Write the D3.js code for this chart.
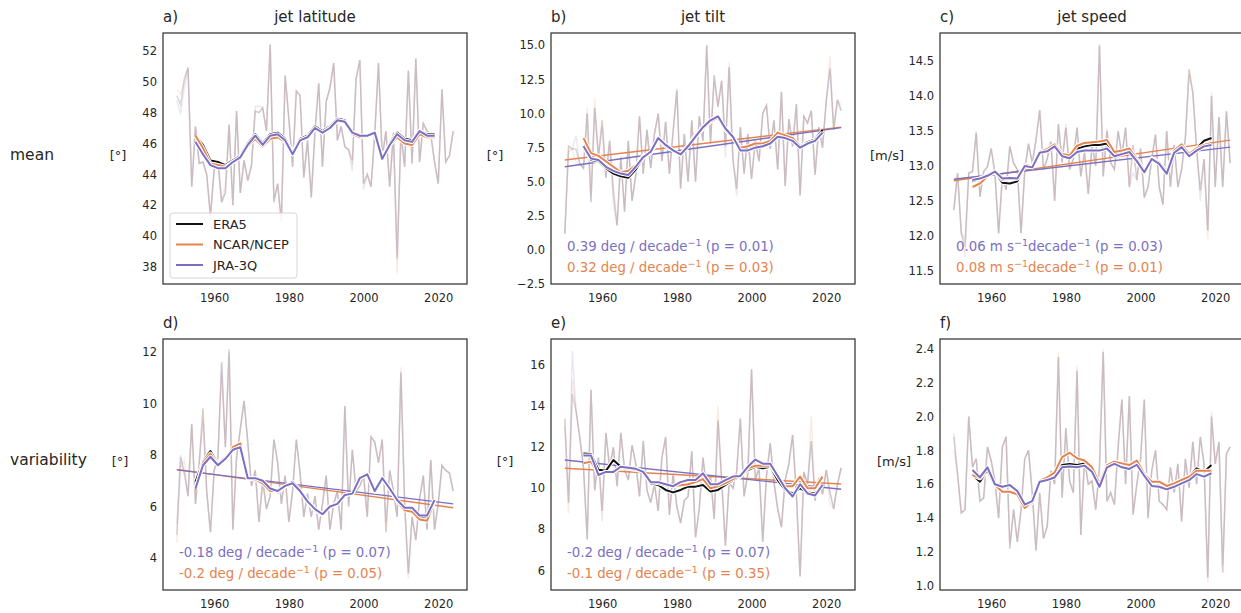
<!DOCTYPE html>
<html>
<head>
<meta charset="utf-8">
<script src="https://cdn.jsdelivr.net/npm/d3@7"></script>
<style>
  body { margin: 0; background: #fff; }
  svg text { font-family: "DejaVu Sans", sans-serif; fill: #262626; }
</style>
</head>
<body>
<div id="chart"></div>
<script>
// ---- data --------------------------------------------------------------
const years = d3.range(1950, 2025)          // annual values
const smoothYears = d3.range(1955, 2020, 2) // 11-yr running mean, read every 2nd year
const datasetNames = ['ERA5', 'NCAR/NCEP', 'JRA-3Q']
const xTicks = [1960, 1980, 2000, 2020]

// a) jet latitude mean
const latEra5 = [49.1,48.5,50.2,50.9,43.2,47.1,44.7,44.8,44.0,41.3, 44.3,44.9,42.2,42.8,47.2,42.0,48.1,42.8,44.9,43.6, 44.6,48.1,48.0,48.3,46.8,52.4,42.2,43.4,40.9,50.4, 47.6,44.5,49.4,49.1,43.8,46.2,42.5,46.8,49.9,44.5, 48.7,49.6,51.2,46.2,47.1,45.8,45.6,44.9,50.2,51.4, 43.4,44.0,43.2,46.6,51.2,45.1,46.8,43.2,46.7,38.5, 46.6,44.5,50.7,44.7,51.5,44.8,47.3,46.8,46.6,44.8, 43.4,49.5,44.8,45.2,46.8]
const latNcar = [49.5,49.2,50.0,50.9,43.2,47.1,44.7,44.8,44.0,41.3, 44.3,44.9,42.2,43.3,47.2,42.0,48.1,42.8,44.9,43.6, 44.6,48.1,48.0,48.3,46.8,52.4,42.4,43.4,40.9,50.4, 47.6,44.5,49.4,49.1,43.8,46.2,42.5,46.8,49.9,44.5, 48.7,49.6,51.2,46.2,47.1,45.8,45.6,44.6,50.2,51.4, 43.4,44.0,43.2,46.6,51.2,45.1,46.8,43.2,46.7,37.6, 46.9,44.5,50.7,44.7,51.5,44.8,47.3,46.8,46.6,44.8, 43.4,49.5,44.8,45.2,46.8]
const latJra = [48.8,47.9,49.6,50.9,43.2,47.1,44.7,44.8,44.0,41.3, 44.3,44.9,42.2,42.8,47.2,42.0,48.1,42.8,44.9,43.6, 44.6,48.4,48.4,48.3,46.8,52.4,42.2,43.4,40.9,50.4, 47.6,44.5,49.4,49.1,43.8,46.2,42.5,46.8,49.9,44.5, 48.7,49.6,51.2,46.2,47.1,45.8,45.6,44.2,50.2,51.4, 43.0,44.0,43.2,46.6,51.2,45.1,46.8,43.2,46.7,38.7, 46.6,44.5,50.7,44.7,51.5,44.8,47.3,46.8,46.6,44.8, 43.4,49.5,44.8,45.2,46.8]
const latSmEra5 = [46.5,45.9,44.9,44.8,44.6,44.9,45.2,46.0,46.6,46.0,46.6,46.7,46.3,45.4,46.3,46.5,47.1,46.8,47.1,47.6,47.5,46.7,46.4,46.5,46.7,45.1,46.0,46.7,46.3,46.2,46.8,46.6,46.6]
const latSmNcar = [46.5,45.7,44.7,44.6,44.5,44.8,45.1,45.8,46.3,45.8,46.3,46.4,46.1,45.3,46.2,46.4,46.9,46.7,47.0,47.5,47.4,46.6,46.4,46.5,46.7,45.1,45.9,46.4,46.0,45.9,46.6,46.4,46.4]
const latSmJra = [46.1,45.3,44.6,44.4,44.4,44.8,45.1,45.9,46.5,45.9,46.5,46.6,46.2,45.3,46.2,46.4,47.0,46.7,47.0,47.5,47.4,46.7,46.5,46.5,46.7,45.0,45.9,46.6,46.2,46.1,46.8,46.5,46.5]

// b) jet tilt mean
const tiltEra5 = [1.2,7.6,7.4,7.4,6.3,6.0,10.0,3.5,10.4,6.8, 9.5,5.3,8.0,4.2,1.8,6.8,2.8,8.0,3.6,5.5, 9.8,5.6,8.8,6.0,8.5,10.0,6.5,9.4,5.6,8.7, 11.7,4.5,8.5,5.0,9.5,5.0,9.8,8.0,15.0,7.8, 12.8,10.5,12.4,7.6,13.4,6.7,4.5,9.0,5.6,8.5, 5.2,8.0,6.5,10.0,10.6,7.4,9.5,5.9,11.6,4.7, 9.6,7.6,10.7,4.0,9.8,9.3,10.2,5.5,9.0,7.5, 10.9,13.3,8.8,11.0,10.2]
const tiltNcar = [1.2,7.6,7.4,6.4,6.3,6.0,10.4,4.0,11.1,6.8, 9.5,5.3,8.0,4.8,1.8,6.8,2.8,8.0,3.6,5.5, 9.8,5.6,8.8,6.0,8.5,10.0,6.5,9.4,5.6,8.7, 11.9,4.5,8.5,5.0,9.5,5.0,9.8,8.0,15.0,7.8, 12.4,10.5,12.4,7.6,13.8,6.7,4.5,9.0,5.6,8.5, 5.2,8.0,6.5,10.0,10.6,7.4,9.5,5.9,11.6,4.7, 9.6,7.6,10.7,4.0,9.8,9.3,10.2,5.5,9.0,7.5, 10.9,14.2,8.8,11.0,10.6]
const tiltJra = [1.2,7.2,7.4,8.4,6.3,6.0,10.0,3.5,10.4,6.8, 9.0,5.3,8.0,3.4,1.8,6.8,2.8,8.0,3.6,5.5, 9.8,5.6,8.8,6.0,8.5,10.0,6.5,9.4,5.6,8.7, 11.7,4.5,8.5,5.0,9.5,5.0,9.8,8.0,15.0,7.8, 12.8,10.5,12.4,6.8,13.4,6.7,4.0,9.0,5.6,8.5, 5.2,8.0,6.5,10.0,10.6,7.4,9.5,5.9,11.6,4.7, 9.6,7.6,10.7,4.0,9.8,9.3,10.2,5.5,9.0,7.5, 10.9,13.3,8.8,11.0,10.2]
const tiltSmEra5 = [7.6,6.6,6.5,6.0,5.6,5.4,5.3,5.9,6.8,7.1,8.1,7.6,7.3,7.0,7.7,8.4,9.0,9.4,9.7,8.8,8.3,7.4,7.4,7.6,7.7,7.9,8.4,8.3,8.1,7.6,7.9,8.1,8.8]
const tiltSmNcar = [8.2,7.1,6.9,6.5,6.1,5.7,5.8,6.2,6.9,7.1,8.2,7.7,7.3,7.0,7.7,8.3,8.9,9.4,9.7,8.8,8.3,7.5,7.6,7.8,7.8,8.0,8.6,8.4,8.2,7.6,7.8,8.0,8.6]
const tiltSmJra = [7.6,6.7,6.6,6.1,5.8,5.6,5.5,6.1,6.8,7.2,8.2,7.7,7.3,7.0,7.6,8.3,9.0,9.5,9.8,8.9,8.3,7.3,7.3,7.5,7.6,7.8,8.3,8.2,8.0,7.5,7.8,8.0,8.6]

// c) jet speed mean
const speedEra5 = [12.37,12.90,12.04,11.85,12.90,12.92,13.47,12.56,12.92,12.99, 13.25,12.90,12.04,12.85,12.66,13.28,13.04,12.95,12.04,12.94, 13.32,13.04,13.37,13.80,12.95,13.10,13.35,12.50,13.60,13.05, 13.55,12.95,13.10,13.55,12.85,13.20,12.60,13.30,13.00,14.72, 12.85,13.50,13.05,12.95,13.50,13.15,13.55,12.70,13.30,12.80, 13.25,12.55,12.70,13.10,13.45,12.70,12.45,13.50,12.70,13.30, 12.70,12.95,13.40,14.38,14.05,13.25,12.65,13.10,12.08,14.00, 12.70,13.70,12.70,13.78,13.04]
const speedNcar = [12.37,12.90,12.04,11.70,12.90,12.92,13.47,12.56,12.92,12.99, 13.25,12.90,12.04,12.85,12.66,13.28,13.04,12.95,12.04,12.94, 13.32,13.04,13.37,13.80,12.95,13.10,13.35,12.50,13.60,13.05, 13.60,12.95,13.10,13.55,12.85,13.20,12.60,13.30,13.00,14.75, 12.85,13.55,13.05,12.95,13.50,13.15,13.55,12.70,13.30,12.80, 13.25,12.55,12.70,13.10,13.45,12.70,12.45,13.50,12.70,13.30, 12.70,12.95,13.40,14.38,14.05,13.25,12.65,13.10,11.95,14.05, 12.70,13.70,12.70,13.78,13.04]
const speedJra = [12.37,12.90,12.04,11.95,12.90,12.92,13.50,12.56,12.92,12.99, 13.25,12.90,12.04,12.85,12.66,13.28,13.04,12.95,12.04,12.94, 13.32,13.04,13.37,13.80,12.95,13.10,13.35,12.50,13.60,13.05, 13.55,12.95,13.10,13.55,12.85,13.20,12.60,13.30,13.00,14.72, 12.85,13.50,13.05,12.95,13.50,13.15,13.55,12.70,12.90,12.80, 13.25,12.55,12.70,13.10,13.45,12.70,12.45,13.50,12.70,13.30, 12.70,12.95,13.40,14.30,14.05,13.25,12.50,13.10,12.08,14.00, 12.70,13.70,12.70,13.78,13.04]
const speedSmEra5 = [12.78,12.82,12.87,12.92,12.76,12.75,12.78,13.01,12.99,13.20,13.23,13.30,13.16,13.13,13.25,13.28,13.30,13.30,13.32,13.18,13.20,13.23,13.09,12.92,13.11,13.04,12.91,13.21,13.30,13.16,13.25,13.36,13.40]
const speedSmNcar = [12.70,12.75,12.85,12.92,12.80,12.83,12.82,13.02,12.99,13.20,13.24,13.31,13.17,13.15,13.29,13.33,13.34,13.35,13.37,13.20,13.22,13.25,13.10,12.93,13.11,13.05,12.92,13.22,13.31,13.17,13.25,13.30,13.33]
const speedSmJra = [12.80,12.82,12.86,12.92,12.82,12.83,12.82,13.00,12.98,13.19,13.21,13.28,13.14,13.11,13.20,13.22,13.22,13.22,13.25,13.14,13.17,13.20,13.07,12.91,13.10,13.03,12.89,13.19,13.27,13.14,13.22,13.28,13.30]

// d) jet latitude variability
const latVarEra5 = [4.9,7.9,7.3,6.4,9.2,6.1,7.7,9.8,6.6,5.0, 7.4,7.9,11.6,8.3,12.1,5.1,7.9,9.0,10.1,8.5, 6.8,7.4,5.4,7.0,5.9,6.4,8.6,7.7,6.1,7.2, 5.4,6.6,8.6,7.3,5.6,6.5,5.6,6.4,5.1,6.1, 7.2,5.1,6.1,6.6,5.1,9.9,6.0,8.2,6.6,6.8, 7.2,5.6,8.7,8.5,7.7,8.6,5.0,7.4,6.6,5.6, 11.2,6.1,3.4,5.6,4.7,6.3,7.2,5.1,7.8,5.1, 6.1,7.6,7.4,7.3,6.6]
const latVarNcar = [4.6,7.5,7.8,6.4,9.2,6.1,7.7,9.8,6.6,5.0, 7.4,7.9,11.2,8.3,11.9,5.1,7.9,9.0,10.1,8.5, 6.8,7.4,5.4,7.0,5.9,6.4,8.6,7.7,6.1,7.2, 5.4,6.6,8.6,7.3,5.6,6.5,5.6,6.4,5.1,6.1, 7.2,5.1,6.1,6.6,5.1,9.9,6.0,8.2,6.6,6.8, 7.2,5.6,8.7,8.5,7.7,8.6,5.0,7.4,6.6,5.6, 11.4,6.1,3.2,5.6,4.7,6.3,7.2,5.1,7.8,5.1, 6.1,7.6,7.4,7.3,6.6]
const latVarJra = [5.3,8.0,7.3,6.4,9.2,6.1,7.7,9.3,6.6,5.0, 7.4,7.9,11.6,8.3,12.0,5.1,7.9,9.0,10.1,8.5, 6.8,7.4,5.4,7.0,5.9,6.4,8.6,7.7,6.1,7.2, 5.4,6.6,8.6,7.3,5.6,6.5,5.6,6.4,5.1,6.1, 7.2,5.1,6.1,6.6,5.1,9.9,6.0,8.2,6.6,6.8, 7.2,5.6,8.7,8.5,7.7,8.6,5.4,7.4,6.6,5.6, 11.2,6.1,3.4,5.6,4.7,6.3,7.2,5.1,7.8,5.1, 6.1,7.6,7.4,7.3,6.6]
const latVarSmEra5 = [6.96,7.74,8.15,7.65,7.9,8.25,8.35,7.09,7.09,6.96,6.64,6.55,6.77,6.96,6.64,6.19,5.86,5.67,5.99,6.12,6.45,6.51,7.1,7.25,6.58,7.1,6.7,6.25,5.93,5.88,5.6,5.6,6.25]
const latVarSmNcar = [6.64,7.7,8.05,7.6,7.85,8.3,8.45,7.1,7.05,6.9,6.6,6.6,6.8,6.9,6.6,6.2,5.9,5.7,6.0,6.1,6.45,6.5,7.1,7.25,6.6,7.1,6.7,6.2,5.85,5.8,5.5,5.45,6.2]
const latVarSmJra = [6.7,7.6,7.93,7.6,7.85,8.2,8.3,7.1,7.1,7.0,6.7,6.6,6.8,6.9,6.6,6.2,5.9,5.7,6.0,6.1,6.45,6.5,7.1,7.25,6.6,7.1,6.7,6.25,5.95,5.95,5.65,5.65,6.25]

// e) jet tilt variability
const tiltVarEra5 = [13.4,9.3,14.6,13.8,12.5,11.0,7.5,14.8,9.9,11.5, 8.9,12.7,11.0,12.0,10.1,12.7,10.9,10.4,12.1,11.2, 9.6,12.3,9.9,9.3,10.2,8.9,11.5,12.5,8.7,10.7, 9.1,8.3,9.4,9.6,11.8,7.6,9.0,11.5,9.9,10.6, 8.5,13.3,10.4,7.2,10.3,10.0,10.8,13.4,9.6,10.7, 15.8,10.4,11.0,7.4,10.6,12.2,10.3,9.0,8.1,10.4, 11.2,12.6,9.7,5.7,10.8,10.2,12.3,9.4,10.5,9.7, 10.9,9.8,9.0,10.2,11.0]
const tiltVarNcar = [13.4,8.8,15.3,13.8,12.5,11.0,7.5,14.8,9.9,11.5, 8.9,12.7,11.0,12.0,10.1,12.7,10.9,10.4,12.1,11.2, 9.6,12.3,9.9,9.3,10.2,8.9,11.5,12.5,8.7,10.7, 9.1,8.3,9.4,9.6,11.8,7.6,9.0,11.5,9.9,10.6, 8.5,14.0,10.4,7.2,10.3,10.0,10.8,13.4,9.6,10.7, 15.8,10.4,11.0,7.4,10.6,12.2,10.3,9.0,8.1,10.4, 11.2,12.6,9.7,5.7,10.8,10.2,13.5,9.4,10.5,9.7, 10.9,9.2,9.0,10.2,11.0]
const tiltVarJra = [13.0,9.3,16.7,13.8,12.5,11.0,7.5,14.8,9.9,11.5, 8.4,12.7,11.0,12.0,10.1,12.7,10.9,10.4,12.1,11.2, 9.6,12.3,9.9,9.3,10.2,8.9,11.5,12.5,8.7,10.7, 9.1,8.3,9.4,9.6,11.8,7.6,9.0,11.5,9.9,10.6, 8.5,13.3,10.4,7.2,10.3,10.0,10.8,13.4,9.6,10.7, 15.8,10.4,11.0,7.4,10.6,12.2,10.3,9.0,8.1,10.4, 11.2,12.6,9.7,5.7,10.8,10.2,12.3,9.4,10.5,9.7, 10.9,9.8,9.0,10.2,11.0]
const tiltVarSmEra5 = [11.7,11.67,10.9,10.85,11.38,11.05,11.0,10.97,10.81,10.24,10.16,9.92,9.8,9.92,10.08,10.08,10.16,9.84,9.92,10.16,10.4,10.57,10.89,11.05,10.97,11.05,10.4,9.92,9.75,10.0,9.8,9.75,10.16]
const tiltVarSmNcar = [11.22,11.3,10.7,10.8,10.8,11.0,10.95,10.9,10.8,10.3,10.25,10.15,10.1,10.15,10.2,10.3,10.45,10.0,10.1,10.25,10.45,10.6,10.97,11.1,11.1,11.1,10.6,10.1,10.1,10.57,10.0,10.0,10.57]
const tiltVarSmJra = [11.6,11.6,10.65,10.8,10.8,11.05,11.0,10.95,10.8,10.3,10.3,10.2,10.1,10.3,10.4,10.4,10.73,10.2,10.2,10.4,10.57,10.6,11.05,11.4,11.2,11.2,10.6,10.0,9.6,10.2,9.75,9.65,10.16]

// f) jet speed variability
const speedVarEra5 = [1.88,1.66,1.43,1.45,2.00,1.70,1.75,1.50,1.52,1.82, 1.74,1.62,1.40,1.82,1.88,1.22,1.45,1.26,1.45,1.75, 1.80,1.55,1.21,1.55,1.28,1.35,1.68,1.60,2.35,1.52, 1.93,1.62,1.55,2.27,1.30,1.75,1.60,1.62,1.45,1.70, 2.38,1.50,1.55,1.48,1.82,2.10,1.60,2.12,1.42,1.60, 1.75,2.10,1.40,1.68,1.80,1.50,1.48,1.45,1.70,1.55, 1.72,1.38,1.75,1.58,1.85,1.60,1.88,1.72,1.05,2.00, 1.72,1.85,1.08,1.78,1.82]
const speedVarNcar = [1.80,1.66,1.43,1.45,2.00,1.70,1.75,1.50,1.52,1.82, 1.74,1.62,1.40,1.82,1.88,1.22,1.45,1.26,1.45,1.75, 1.80,1.55,1.21,1.55,1.28,1.35,1.68,1.60,2.38,1.52, 1.93,1.62,1.55,2.30,1.30,1.75,1.60,1.62,1.45,1.70, 2.40,1.50,1.55,1.48,1.82,2.10,1.60,2.12,1.42,1.60, 1.75,2.10,1.40,1.68,1.80,1.50,1.48,1.45,1.70,1.55, 1.72,1.38,1.75,1.58,1.85,1.60,1.88,1.72,1.02,2.03, 1.72,1.85,1.08,1.78,1.82]
const speedVarJra = [1.90,1.66,1.43,1.45,2.00,1.70,1.75,1.50,1.52,1.82, 1.74,1.62,1.40,1.82,1.88,1.25,1.45,1.26,1.45,1.75, 1.80,1.55,1.21,1.55,1.28,1.35,1.68,1.60,2.35,1.52, 1.93,1.62,1.55,2.27,1.30,1.75,1.60,1.62,1.45,1.70, 2.38,1.50,1.55,1.48,1.82,2.10,1.60,2.12,1.42,1.60, 1.75,2.10,1.40,1.68,1.80,1.50,1.48,1.45,1.70,1.55, 1.72,1.38,1.75,1.58,1.85,1.60,1.88,1.72,1.05,2.00, 1.72,1.85,1.12,1.78,1.82]
const speedVarSmEra5 = [1.654,1.615,1.684,1.595,1.556,1.556,1.55,1.47,1.49,1.615,1.625,1.644,1.713,1.72,1.713,1.723,1.684,1.595,1.713,1.733,1.723,1.713,1.743,1.664,1.615,1.615,1.59,1.605,1.625,1.644,1.694,1.674,1.713]
const speedVarSmNcar = [1.654,1.635,1.68,1.595,1.556,1.556,1.54,1.46,1.50,1.62,1.64,1.67,1.76,1.786,1.753,1.74,1.70,1.605,1.713,1.733,1.723,1.713,1.74,1.66,1.615,1.615,1.59,1.605,1.625,1.644,1.68,1.68,1.68]
const speedVarSmJra = [1.684,1.64,1.70,1.60,1.585,1.595,1.56,1.48,1.50,1.615,1.625,1.64,1.70,1.705,1.70,1.71,1.674,1.585,1.70,1.72,1.70,1.69,1.715,1.65,1.59,1.585,1.57,1.585,1.605,1.624,1.66,1.645,1.665]

// linear trends, value at 1950 and at 2024 (null = no trend drawn)
const trendYears = [1950, 2024]
const trendJra  = [null, [6.10, 8.97], [12.81, 13.27], [7.42, 6.10], [11.38, 9.95], null]
const trendNcar = [null, [6.60, 9.00], [12.79, 13.37], [7.44, 5.95], [10.98, 10.21], null]
const trendTextJra  = [null, '0.39 deg / decade{−1} (p = 0.01)', '0.06 m s{−1}decade{−1} (p = 0.03)', '-0.18 deg / decade{−1} (p = 0.07)', '-0.2 deg / decade{−1} (p = 0.07)', null]
const trendTextNcar = [null, '0.32 deg / decade{−1} (p = 0.03)', '0.08 m s{−1}decade{−1} (p = 0.01)', '-0.2 deg / decade{−1} (p = 0.05)', '-0.1 deg / decade{−1} (p = 0.35)', null]

// ---- layout ------------------------------------------------------------
const W = 1241, H = 613
const colLeft = [163, 551, 940], rowTop = [33, 339], pw = 304, ph = 251
const xDomain = [1946.3, 2027.7]
const colors = ['#111111', '#e5834f', '#7a6fc1']
const fmt1 = d => d.toFixed(1).replace('-', '\u2212')

const panels = [
  {letter: 'a)', title: 'jet latitude', unit: '[°]', labelDx: -45, ydom: [36.9, 53.15], yticks: [38,40,42,44,46,48,50,52], fmt: d3.format('d'),
   annual: [latEra5, latNcar, latJra], smooth: [latSmEra5, latSmNcar, latSmJra]},
  {letter: 'b)', title: 'jet tilt', unit: '[°]', labelDx: -56, ydom: [-2.49, 15.9], yticks: [-2.5,0,2.5,5,7.5,10,12.5,15], fmt: fmt1,
   annual: [tiltEra5, tiltNcar, tiltJra], smooth: [tiltSmEra5, tiltSmNcar, tiltSmJra]},
  {letter: 'c)', title: 'jet speed', unit: '[m/s]', labelDx: -53, ydom: [11.314, 14.9], yticks: [11.5,12,12.5,13,13.5,14,14.5], fmt: fmt1,
   annual: [speedEra5, speedNcar, speedJra], smooth: [speedSmEra5, speedSmNcar, speedSmJra]},
  {letter: 'd)', title: '', unit: '[°]', labelDx: -43, ydom: [2.76, 12.5], yticks: [4,6,8,10,12], fmt: d3.format('d'),
   annual: [latVarEra5, latVarNcar, latVarJra], smooth: [latVarSmEra5, latVarSmNcar, latVarSmJra]},
  {letter: 'e)', title: '', unit: '[°]', labelDx: -46, ydom: [5.04, 17.28], yticks: [6,8,10,12,14,16], fmt: d3.format('d'),
   annual: [tiltVarEra5, tiltVarNcar, tiltVarJra], smooth: [tiltVarSmEra5, tiltVarSmNcar, tiltVarSmJra]},
  {letter: 'f)', title: '', unit: '[m/s]', labelDx: -46, ydom: [0.976, 2.457], yticks: [1,1.2,1.4,1.6,1.8,2,2.2,2.4], fmt: fmt1,
   annual: [speedVarEra5, speedVarNcar, speedVarJra], smooth: [speedVarSmEra5, speedVarSmNcar, speedVarSmJra]}
]

const svg = d3.select('#chart').append('svg').attr('width', W).attr('height', H)

// row labels
svg.append('text').attr('x', 10).attr('y', 160).attr('font-size', 15.5).text('mean')
svg.append('text').attr('x', 10).attr('y', 465).attr('font-size', 15.5).text('variability')

function addRichText(sel, str) {
  // parts inside {} are superscripts
  const parts = str.split(/\{(.*?)\}/)
  let shift = 0
  parts.forEach((s, k) => {
    if (!s) return
    if (k % 2 === 1) {
      sel.append('tspan').attr('dy', -5.5 - shift).attr('font-size', 9.5).text(s)
      shift = -5.5
    } else {
      sel.append('tspan').attr('dy', -shift).text(s)
      shift = 0
    }
  })
}

panels.forEach((p, i) => {
  const left = colLeft[i % 3], top = rowTop[Math.floor(i / 3)]
  const x = d3.scaleLinear().domain(xDomain).range([left, left + pw])
  const y = d3.scaleLinear().domain(p.ydom).range([top + ph, top])
  const line = d3.line().x(d => x(d[0])).y(d => y(d[1]))

  svg.append('clipPath').attr('id', 'clip' + i)
    .append('rect').attr('x', left).attr('y', top).attr('width', pw).attr('height', ph)
  const g = svg.append('g').attr('clip-path', `url(#clip${i})`)

  // annual values, faint
  p.annual.forEach((vals, k) => {
    g.append('path')
      .datum(vals.map((v, j) => [years[j], v]))
      .attr('fill', 'none')
      .attr('stroke', colors[k])
      .attr('stroke-opacity', 0.16)
      .attr('stroke-width', 1.5)
      .attr('d', line)
  })

  // trends
  ;[[trendNcar[i], 1], [trendJra[i], 2]].forEach(([t, k]) => {
    if (!t) return
    g.append('path')
      .datum(trendYears.map((yr, j) => [yr, t[j]]))
      .attr('fill', 'none')
      .attr('stroke', colors[k])
      .attr('stroke-width', 1.4)
      .attr('d', line)
  })

  // running means with white halo
  p.smooth.forEach((vals, k) => {
    const pts = vals.map((v, j) => [smoothYears[j], v])
    g.append('path').datum(pts)
      .attr('fill', 'none').attr('stroke', '#fff').attr('stroke-width', 4)
      .attr('stroke-linejoin', 'round').attr('d', line)
    g.append('path').datum(pts)
      .attr('fill', 'none').attr('stroke', colors[k]).attr('stroke-width', 2)
      .attr('stroke-linejoin', 'round').attr('d', line)
  })

  // axes
  svg.append('g')
    .attr('transform', `translate(${left},0)`)
    .call(d3.axisLeft(y).tickValues(p.yticks).tickSize(0).tickPadding(6).tickFormat(p.fmt))
    .call(a => a.select('.domain').remove())
    .attr('font-size', 11.5).attr('font-family', null)
  svg.append('g')
    .attr('transform', `translate(0,${top + ph})`)
    .call(d3.axisBottom(x).tickValues(xTicks).tickSize(0).tickPadding(10).tickFormat(d3.format('d')))
    .call(a => a.select('.domain').remove())
    .attr('font-size', 11.5).attr('font-family', null)

  // frame
  svg.append('rect')
    .attr('x', left).attr('y', top).attr('width', pw).attr('height', ph)
    .attr('fill', 'none').attr('stroke', '#333').attr('stroke-width', 1.25)

  // labels
  svg.append('text').attr('x', left).attr('y', top - 11).attr('font-size', 15).text(p.letter)
  if (p.title) {
    svg.append('text').attr('x', left + pw / 2).attr('y', top - 11)
      .attr('text-anchor', 'middle').attr('font-size', 15).text(p.title)
  }
  svg.append('text').attr('x', left + p.labelDx).attr('y', top + ph / 2 - 3)
    .attr('text-anchor', 'middle').attr('dominant-baseline', 'central')
    .attr('font-size', 13).text(p.unit)

  // trend annotations
  ;[[trendTextJra[i], 2, 33], [trendTextNcar[i], 1, 12]].forEach(([s, k, off]) => {
    if (!s) return
    const t = svg.append('text')
      .attr('x', left + 16).attr('y', top + ph - off)
      .attr('font-size', 13.3)
      .style('fill', colors[k])
    addRichText(t, s)
  })

  // legend in panel a
  if (i === 0) {
    const lg = svg.append('g')
    lg.append('rect').attr('x', left + 7).attr('y', top + 180).attr('width', 127).attr('height', 65)
      .attr('rx', 3).attr('fill', '#fff').attr('fill-opacity', 0.85)
      .attr('stroke', '#d6d6d6').attr('stroke-width', 1)
    datasetNames.forEach((name, k) => {
      const yy = top + 191 + k * 20.5
      lg.append('line').attr('x1', left + 13).attr('x2', left + 40).attr('y1', yy).attr('y2', yy)
        .attr('stroke', colors[k]).attr('stroke-width', 2)
      lg.append('text').attr('x', left + 50).attr('y', yy).attr('dominant-baseline', 'central')
        .attr('font-size', 13).text(name)
    })
  }
})
</script>
</body>
</html>
